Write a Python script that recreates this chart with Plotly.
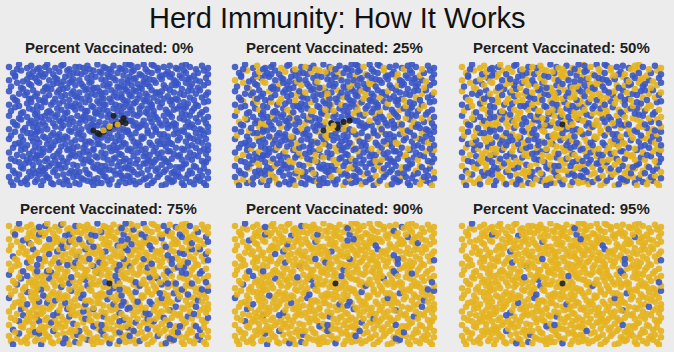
import plotly.graph_objects as go

# ---------------- data ----------------
PERCENTS = [0, 25, 50, 75, 90, 95]
TITLE = "Herd Immunity: How It Works"
PANEL_TITLES = ["Percent Vaccinated: %d%%" % p for p in PERCENTS]

# population positions (0-100 units), read/estimated band by band
X_BANDS = [
    [1,2,6,8,9,13,16,17,21,22,25,29,30,33,35,39,41,42,46,49,50,54,55,58,62,63,65,69,71,72,76,78,81,82,86,87,90,92,95,97,98,44,27,60],
    [0,4,5,9,11,14,15,19,20,24,27,28,32,34,36,37,40,44,47,48,51,53,57,59,60,64,67,68,70,74,75,79,80,83,85,88,89,93,94,96,99,18,56,42],
    [2,3,7,10,12,13,17,18,22,23,26,30,31,35,38,39,43,45,46,50,52,55,56,61,62,66,69,73,74,77,78,82,84,86,90,91,95,97,99,48,59,33,81,15],
    [0,5,6,8,12,15,16,20,21,25,28,29,32,34,37,41,42,44,48,51,54,55,58,60,63,65,68,71,72,76,79,80,83,87,88,92,93,97,98,24,46,67,10,85],
    [1,3,7,9,11,14,18,19,23,26,27,30,33,36,38,40,43,47,49,52,53,57,58,62,64,67,69,70,75,77,78,81,84,86,89,91,94,96,99,44,60,22,73,13],
    [0,4,6,10,12,16,17,20,24,25,29,31,32,35,39,40,42,46,48,51,55,56,59,61,64,66,70,72,74,76,80,82,85,87,90,92,95,98,99,37,53,68,14,79],
    [2,3,8,9,13,15,19,21,22,26,28,30,34,37,38,42,45,47,50,52,54,58,60,63,65,68,71,73,77,78,81,83,86,89,91,93,97,99,44,56,17,6,75,32],
    [0,5,7,11,12,15,18,20,23,27,29,31,33,36,40,41,44,46,49,53,55,57,61,62,66,67,70,74,76,79,80,84,85,88,92,94,96,98,51,25,64,90,38,14],
    [1,3,6,9,13,14,17,21,22,25,28,31,34,35,37,41,43,46,48,50,54,56,59,60,63,66,69,71,73,77,79,82,84,87,89,93,95,97,99,45,24,58,75,11],
    [0,4,7,8,12,16,18,19,23,26,27,30,33,36,39,40,44,47,52,53,57,59,62,64,65,69,72,73,76,79,81,83,86,88,92,95,96,99,42,49,55,68,14,90],
    [2,3,6,10,11,15,17,20,22,25,29,30,32,35,38,41,42,45,48,51,54,55,58,61,63,66,67,71,74,75,78,82,83,87,89,91,94,97,98,60,36,13,79,26],
    [0,5,6,9,13,14,18,21,23,24,28,31,34,37,38,40,44,46,49,50,53,57,59,62,64,65,70,72,73,77,80,81,85,86,90,93,95,99,43,56,69,16,27,88],
    [1,3,7,10,12,16,19,20,24,26,29,32,33,36,39,42,43,47,49,52,54,56,60,61,65,68,69,72,75,78,79,82,84,88,91,92,96,98,57,38,14,71,45,87],
    [0,4,5,9,11,14,17,21,22,25,27,31,33,35,38,41,44,45,48,51,53,55,59,62,63,66,70,71,74,76,80,81,85,87,89,93,94,97,99,58,29,68,47,18],
    [2,3,8,10,13,15,18,20,23,26,28,30,34,36,39,40,43,46,50,52,54,57,60,61,64,67,69,72,75,77,79,83,84,87,90,92,96,98,47,33,65,11,81,56],
    [0,5,7,9,12,14,17,21,24,25,27,31,32,35,38,41,42,45,48,51,53,56,58,62,63,66,68,71,74,76,80,82,85,86,89,93,95,99,39,59,19,73,46,91],
    [1,4,6,10,11,15,18,19,22,26,29,30,33,36,37,40,44,47,49,50,54,55,59,61,64,65,69,70,73,77,78,81,84,88,90,91,94,97,99,57,42,24,83,67],
    [0,3,7,9,13,14,17,20,23,24,28,31,32,35,39,41,43,46,48,52,53,56,60,62,63,67,68,72,75,76,80,82,83,86,89,93,95,98,50,70,27,11,59,90],
    [2,3,6,10,12,15,16,20,22,25,29,30,34,36,38,41,42,46,49,51,54,57,58,61,65,66,69,71,74,78,79,81,85,87,88,92,94,97,99,45,62,18,76,32],
    [0,4,5,9,11,14,18,19,23,26,27,30,33,37,39,40,44,47,48,52,55,56,60,61,64,67,68,72,74,77,80,83,84,88,90,93,96,99,58,35,71,15,50,86],
]
Y_BANDS = [
    [3,0,2,4,1,3,0,4,2,1,3,4,0,2,1,4,3,0,2,4,1,0,3,2,4,1,3,0,2,4,0,1,3,4,2,0,3,1,4,2,0,2,1,3],
    [7,5,9,6,8,5,9,7,6,8,9,5,7,8,6,5,9,6,8,7,5,9,6,8,7,9,5,6,8,7,9,6,5,8,7,6,9,5,7,8,6,9,8,5],
    [12,10,14,11,13,10,12,14,11,13,14,10,12,11,13,10,14,12,11,13,12,10,14,13,11,10,13,12,14,11,13,11,10,14,12,10,12,14,11,13,14,11,10,12],
    [16,19,15,18,17,19,15,16,18,17,15,19,17,16,18,19,15,17,16,18,16,19,15,17,18,15,18,16,19,17,19,16,15,17,18,16,15,18,19,17,16,18,19,15],
    [22,20,24,21,23,24,20,22,21,23,20,23,24,22,21,20,24,23,21,22,23,20,22,24,21,24,21,20,23,22,20,22,24,21,23,21,24,20,22,23,20,24,21,22],
    [27,25,29,26,28,25,27,29,26,28,29,25,27,26,28,25,29,27,26,28,26,25,29,28,27,29,25,28,26,27,28,26,25,29,27,25,28,26,29,27,29,26,25,28],
    [31,34,30,33,32,30,34,31,33,32,34,30,32,31,33,30,34,32,31,33,31,34,30,32,33,30,33,31,34,32,34,31,30,32,33,31,30,33,34,32,30,33,34,31],
    [38,35,37,39,36,35,39,37,36,38,39,35,37,38,36,35,38,39,37,36,37,35,39,36,38,39,35,36,38,37,35,37,39,36,38,36,35,38,39,37,35,39,36,38],
    [41,44,40,43,42,44,40,41,43,42,40,44,42,43,41,44,40,42,41,43,41,40,44,42,43,40,43,41,44,42,40,42,43,44,41,43,40,42,44,41,40,44,42,43],
    [46,49,45,47,48,45,49,46,48,47,49,45,47,46,48,45,49,47,46,48,46,45,49,47,48,45,48,46,49,47,49,46,45,48,47,46,45,48,49,47,45,49,46,48],
    [52,50,54,51,53,50,52,54,51,53,54,50,52,51,53,50,54,52,51,53,52,50,54,53,51,50,53,52,54,51,53,51,50,54,52,50,52,54,51,53,54,51,50,52],
    [57,55,59,56,58,55,57,59,56,58,59,55,57,56,58,55,59,57,56,58,56,55,59,58,57,59,55,58,56,57,58,56,55,59,57,55,58,56,59,57,59,56,55,58],
    [61,64,60,63,62,64,60,61,63,62,60,64,62,63,61,64,60,62,61,63,61,60,64,62,63,60,63,61,64,62,60,62,63,64,61,63,60,62,64,61,60,64,62,63],
    [66,69,65,67,68,65,69,66,68,67,69,65,67,66,68,65,69,67,66,68,66,65,69,67,68,65,68,66,69,67,69,66,65,68,67,66,65,68,69,67,65,69,66,68],
    [72,70,74,71,73,70,72,74,71,73,74,70,72,71,73,70,74,72,71,73,72,70,74,73,71,70,73,72,74,71,73,71,70,74,72,70,72,74,71,73,74,71,70,72],
    [77,75,79,76,78,75,77,79,76,78,79,75,77,76,78,75,79,77,76,78,76,75,79,78,77,79,75,78,76,77,78,76,75,79,77,75,78,76,79,77,79,76,75,78],
    [81,84,80,83,82,84,80,81,83,82,80,84,82,83,81,84,80,82,81,83,81,80,84,82,83,80,83,81,84,82,80,82,83,84,81,83,80,82,84,81,80,84,82,83],
    [86,89,85,87,88,85,89,86,88,87,89,85,87,86,88,85,89,87,86,88,86,85,89,87,88,85,88,86,89,87,89,86,85,88,87,86,85,88,89,87,85,89,86,88],
    [92,90,94,91,93,90,92,94,91,93,94,90,92,91,93,90,94,92,91,93,92,90,94,93,91,90,93,92,94,91,93,91,90,94,92,90,92,94,91,93,94,91,90,92],
    [97,95,99,96,98,95,97,99,96,98,99,95,97,96,98,95,99,97,96,98,96,95,99,98,97,99,95,98,96,97,98,96,95,99,97,95,98,96,99,97,99,96,95,98],
]
# vaccination order of each person (vaccinated in a panel when rank < percent)
RANK_BANDS = [
    [12,87,45,3,66,29,91,54,8,73,37,60,19,95,41,82,5,68,27,50,99,14,76,33,58,2,88,47,21,64,10,79,39,93,56,25,70,6,85,43,17,62,97,31],
    [55,20,84,38,71,4,92,47,16,63,30,77,9,98,52,26,69,41,86,13,35,58,1,74,90,23,46,67,11,81,36,57,94,7,28,65,49,18,83,40,72,3,59,32],
    [78,31,6,62,44,89,17,53,96,25,70,39,2,81,57,14,66,33,91,48,8,75,22,60,99,37,84,11,50,28,73,5,93,42,19,67,86,55,0,34,79,15,46,64],
    [40,93,27,68,10,82,51,3,76,35,59,21,88,46,13,70,97,30,64,7,54,85,18,42,91,26,61,1,79,48,33,95,15,57,72,24,87,9,66,38,99,50,12,81],
    [6,58,83,29,47,94,15,71,36,62,0,88,24,53,77,11,42,98,19,65,31,86,4,56,73,39,92,17,49,80,26,67,9,44,90,14,61,35,78,2,52,97,21,70],
    [63,19,90,45,8,74,32,57,96,23,81,40,13,68,50,2,87,29,61,10,77,44,93,16,55,38,84,5,71,27,98,48,12,66,35,89,20,59,1,75,42,85,30,67],
    [37,72,14,91,53,26,80,4,65,43,97,18,59,33,86,9,70,48,24,95,61,1,78,39,55,12,88,30,67,46,6,83,21,74,51,99,36,62,15,92,27,57,8,69],
    [92,28,61,7,45,79,16,54,87,34,69,3,50,96,22,74,41,12,83,58,29,90,6,47,65,18,77,36,99,52,10,85,25,63,40,94,3,71,31,56,80,13,66,48],
    [17,64,39,85,2,56,93,28,72,47,11,80,35,60,97,21,68,4,49,88,31,76,14,58,91,25,43,70,8,62,37,95,19,53,82,6,66,44,99,12,74,27,87,51],
    [48,91,23,66,5,79,34,57,13,86,42,70,0,62,95,27,54,18,81,39,73,9,60,30,97,45,15,68,88,36,52,21,77,3,64,41,93,26,58,11,84,32,71,47],
    [3,58,84,29,71,16,45,92,37,64,8,79,50,22,96,33,67,12,88,41,75,1,55,27,83,46,19,69,94,35,60,6,78,43,15,87,52,24,98,38,66,10,81,49],
    [76,14,43,90,28,61,5,83,37,69,20,97,52,11,74,39,86,2,63,30,95,47,18,72,56,9,81,34,65,24,99,41,7,78,50,16,89,31,60,44,13,71,36,92],
    [21,67,94,40,8,55,82,31,73,15,49,98,26,62,3,87,44,70,12,58,91,35,79,6,53,28,85,17,64,42,96,1,75,33,57,10,84,46,68,23,90,38,14,77],
    [59,4,32,77,19,86,45,63,11,97,28,54,81,36,7,70,48,92,24,60,15,83,39,2,74,51,30,88,66,9,42,95,18,57,79,34,13,68,99,25,85,47,62,20],
    [87,35,61,12,50,78,26,94,3,69,41,17,83,56,30,98,64,8,45,73,22,91,37,59,14,80,48,5,67,33,90,53,19,76,1,62,39,85,28,71,10,57,95,44],
    [29,72,9,56,88,41,15,67,95,34,80,2,50,23,76,61,10,44,92,18,69,37,84,55,6,73,27,99,48,13,65,31,86,40,58,20,78,4,52,89,36,64,12,82],
    [66,13,47,85,30,2,74,58,21,93,39,80,7,62,45,97,18,71,34,54,89,26,9,77,42,63,15,96,51,36,84,3,69,28,57,91,11,46,75,24,86,40,60,19],
    [8,53,90,35,70,17,44,82,26,61,97,5,38,76,49,14,87,31,64,1,58,93,22,68,40,11,79,55,33,86,19,72,46,98,27,63,9,84,37,52,74,16,95,43],
    [44,81,19,67,3,95,58,28,73,12,50,88,35,63,7,91,24,79,47,15,68,99,39,56,2,85,31,70,21,60,94,10,77,42,54,18,89,29,65,6,83,48,36,71],
    [25,70,96,41,13,59,86,32,4,77,50,22,91,64,38,9,82,55,17,73,45,98,28,66,1,89,36,61,11,79,53,94,20,47,75,6,68,34,87,15,57,92,43,30],
]
# infected / recovered people near the outbreak centre of each panel
INF_PANEL = [0,0,0,0,0,0,0,0,0,0,0,0,0, 1,1,1,1,1,1,1,1, 2,3,4,5]
INF_X = [42,44,47,50,53,56,58,57,52,45,50,54,47, 44,48,51,54,57,54,51,49, 50,50,50,50]
INF_Y = [45,43,44,47,50,52,51,55,57,42,48,50,45, 45,51,50,52,53,46,47,49, 50,50,50,50]
INF_STATE = ["I","I","I","I","I","I","I","I","I","I","R","R","R",
             "I","I","I","I","I","R","I","R", "I","I","I","I"]

BLUE = "#3a55c4"
GOLD = "#e4b31e"
DARK = "#1e1e1e"
BG = "#ececec"

# ---------------- figure ----------------
W, H = 674, 352
COLS_PX = [(5, 212), (231, 438), (458, 665)]
ROWS_PX = [(62, 188), (221, 347)]

xs = [v for band in X_BANDS for v in band]
ys = [v for band in Y_BANDS for v in band]
ranks = [v for band in RANK_BANDS for v in band]

fig = go.Figure()
layout_axes = {}
annotations = [dict(text=TITLE, x=0.5, y=1 - 18 / H, xref="paper", yref="paper",
                    xanchor="center", yanchor="middle", showarrow=False,
                    font=dict(family="Liberation Sans, Arial, sans-serif", size=29, color="#111111"))]

for i, pct in enumerate(PERCENTS):
    r, c = divmod(i, 3)
    ax = "" if i == 0 else str(i + 1)
    cols = [GOLD if rk < pct else BLUE for rk in ranks]
    fig.add_trace(go.Scatter(
        x=xs, y=ys, mode="markers", xaxis="x" + ax, yaxis="y" + ax,
        marker=dict(size=6.5, color=cols, opacity=0.9, line=dict(width=0)),
        hoverinfo="skip", showlegend=False))
    ix = [x for p, x in zip(INF_PANEL, INF_X) if p == i]
    iy = [y for p, y in zip(INF_PANEL, INF_Y) if p == i]
    ic = [(DARK if s == "I" else GOLD) for p, s in zip(INF_PANEL, INF_STATE) if p == i]
    fig.add_trace(go.Scatter(
        x=ix, y=iy, mode="markers", xaxis="x" + ax, yaxis="y" + ax,
        marker=dict(size=6, color=ic, opacity=0.9, line=dict(width=0)),
        hoverinfo="skip", showlegend=False))
    x0, x1 = COLS_PX[c]
    y0, y1 = ROWS_PX[r]
    common = dict(showgrid=False, zeroline=False, showticklabels=False,
                  showline=False, ticks="", fixedrange=True)
    layout_axes["xaxis" + ax] = dict(domain=[x0 / W, x1 / W], range=[-2, 101],
                                     anchor="y" + ax, **common)
    layout_axes["yaxis" + ax] = dict(domain=[1 - y1 / H, 1 - y0 / H], range=[-2, 101],
                                     anchor="x" + ax, **common)
    annotations.append(dict(
        text="<b>" + PANEL_TITLES[i] + "</b>", x=(x0 + x1) / 2 / W,
        y=1 - (47 if r == 0 else 208) / H, xref="paper", yref="paper",
        xanchor="center", yanchor="middle", showarrow=False,
        font=dict(family="Liberation Sans, Arial, sans-serif", size=15, color="#1e1e1e")))

fig.update_layout(width=W, height=H, margin=dict(l=0, r=0, t=0, b=0),
                  paper_bgcolor=BG, plot_bgcolor=BG, annotations=annotations,
                  **layout_axes)
fig.write_html("out.html", config={"displayModeBar": False})
